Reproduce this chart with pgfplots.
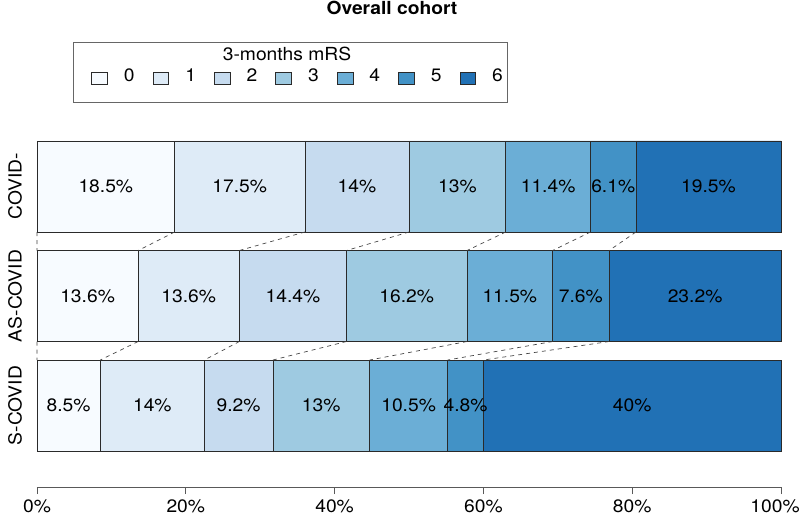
\documentclass[border=0pt]{standalone}
\usepackage{pgfplots}
\pgfplotsset{compat=1.18}
\usepackage{fontspec}
\setmainfont{TeX Gyre Heros}[FakeStretch=1.07]
\definecolor{b0}{HTML}{F7FBFF}
\definecolor{b1}{HTML}{DEEBF7}
\definecolor{b2}{HTML}{C6DBEF}
\definecolor{b3}{HTML}{9ECAE1}
\definecolor{b4}{HTML}{6BAED6}
\definecolor{b5}{HTML}{4292C6}
\definecolor{b6}{HTML}{2171B5}
\definecolor{edge}{HTML}{2A2A2A}
\newcommand{\fs}{\fontsize{13.5}{16}\selectfont}
\pgfplotsset{
  common/.style={
    scale only axis, width=558pt, height=259.5pt,
    xmin=0, xmax=100, ymin=-0.744, ymax=2.4155,
    enlargelimits=false, clip=false, at={(0pt,0pt)}, anchor=south west,
  }
}
\begin{document}
\begin{tikzpicture}
\useasboundingbox (-27.75pt,-21pt) rectangle (572.25pt,365.25pt);
\begin{axis}[common,
  xbar stacked, bar width=0.831,
  axis x line*=bottom, axis y line*=left,
  x axis line style={black!65, line width=0.6pt},
  y axis line style={draw=none},
  xtick={0,20,40,60,80,100},
  xticklabels={0\%,20\%,40\%,60\%,80\%,\hspace*{-9pt}100\%},
  xticklabel style={font=\fs},
  xticklabel shift=0.75pt,
  x tick style={black!65, line width=0.6pt},
  tick align=outside, major tick length=5.25pt,
  ytick={0,1,2},
  yticklabels={S-COVID,AS-COVID,COVID-},
  yticklabel style={rotate=90, anchor=south, font=\fs},
  yticklabel shift=2.5pt,
  y tick style={draw=none},
  legend columns=7,
  legend style={at={(0.0726,1.1859)}, anchor=west, draw=none, fill=none,
    inner sep=0pt, font=\fs, nodes={inner sep=0pt},
    /tikz/every odd column/.style={column sep=12.2pt},
    /tikz/every even column/.style={column sep=13.5pt}},
  legend image code/.code={%
    \draw[#1,draw=edge,line width=0.5pt] (0pt,-5.8pt) rectangle (11.8pt,3.0pt);},
]
\addplot[fill=b0, draw=edge, line width=0.5pt] coordinates {(18.5,2) (13.6,1) (8.5,0)};
\addlegendentry{0}
\addplot[fill=b1, draw=edge, line width=0.5pt] coordinates {(17.5,2) (13.6,1) (14,0)};
\addlegendentry{1}
\addplot[fill=b2, draw=edge, line width=0.5pt] coordinates {(14,2) (14.4,1) (9.2,0)};
\addlegendentry{2}
\addplot[fill=b3, draw=edge, line width=0.5pt] coordinates {(13,2) (16.2,1) (13,0)};
\addlegendentry{3}
\addplot[fill=b4, draw=edge, line width=0.5pt] coordinates {(11.4,2) (11.5,1) (10.5,0)};
\addlegendentry{4}
\addplot[fill=b5, draw=edge, line width=0.5pt] coordinates {(6.1,2) (7.6,1) (4.8,0)};
\addlegendentry{5}
\addplot[fill=b6, draw=edge, line width=0.5pt] coordinates {(19.5,2) (23.1,1) (40,0)};
\addlegendentry{6}
\end{axis}
\begin{axis}[common, hide axis]
\addplot[black!75, dashed, line width=0.5pt, unbounded coords=jump] table {
x y
0 1.5845
0 1.4155
nan nan
18.5 1.5845
13.6 1.4155
nan nan
36 1.5845
27.2 1.4155
nan nan
50 1.5845
41.6 1.4155
nan nan
63 1.5845
57.8 1.4155
nan nan
74.4 1.5845
69.3 1.4155
nan nan
80.5 1.5845
76.9 1.4155
nan nan
0 0.5845
0 0.4155
nan nan
13.6 0.5845
8.5 0.4155
nan nan
27.2 0.5845
22.5 0.4155
nan nan
41.6 0.5845
31.7 0.4155
nan nan
57.8 0.5845
44.7 0.4155
nan nan
69.3 0.5845
55.2 0.4155
nan nan
76.9 0.5845
60 0.4155
};
\addplot[draw=none, mark=none, nodes near coords, point meta=explicit symbolic,
  nodes near coords align=center,
  every node near coord/.append style={font=\fs, text=black, anchor=center}]
  coordinates {
  (9.25,2) [18.5\%] (27.25,2) [17.5\%] (43,2) [14\%] (56.5,2) [13\%]
  (68.7,2) [11.4\%] (77.45,2) [6.1\%] (90.25,2) [19.5\%]
  (6.8,1) [13.6\%] (20.4,1) [13.6\%] (34.4,1) [14.4\%] (49.7,1) [16.2\%]
  (63.55,1) [11.5\%] (73.1,1) [7.6\%] (88.45,1) [23.2\%]
  (4.25,0) [8.5\%] (15.5,0) [14\%] (27.1,0) [9.2\%] (38.2,0) [13\%]
  (49.95,0) [10.5\%] (57.6,0) [4.8\%] (80,0) [40\%]
  };
\end{axis}
\node[font=\bfseries\fs, anchor=base] at (266.25pt,354pt) {Overall cohort};
\node[font=\fs, anchor=base] at (187.5pt,319.7pt) {3-months mRS};
\draw[black!60, line width=0.6pt] (27pt,288.75pt) rectangle (352.5pt,333.75pt);
\end{tikzpicture}
\end{document}
